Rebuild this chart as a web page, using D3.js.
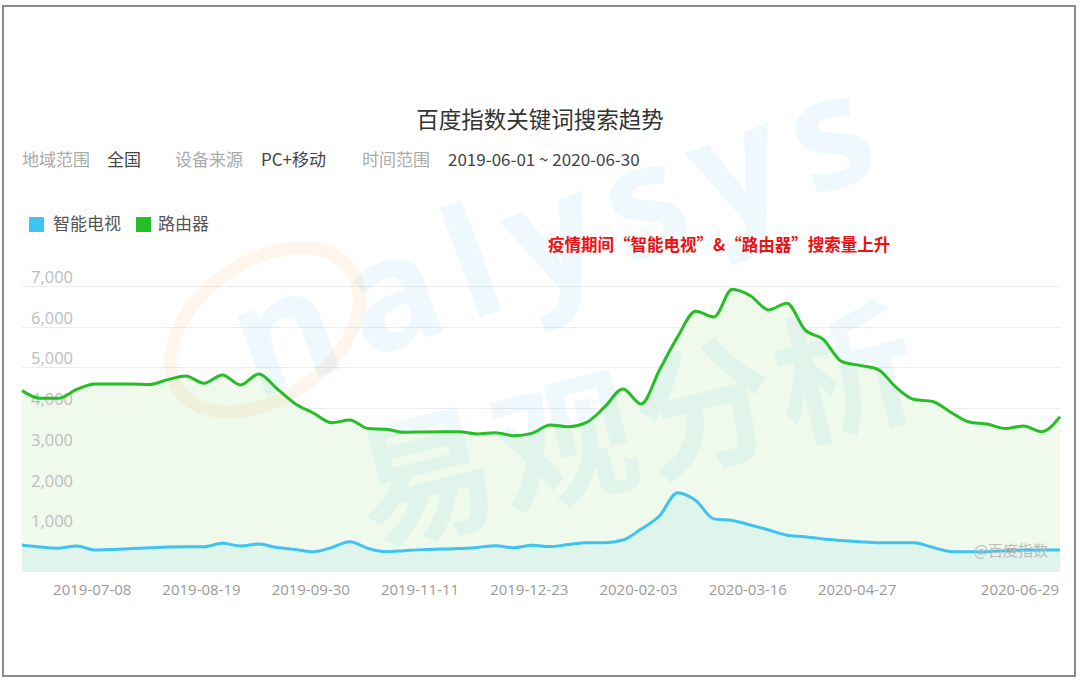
<!DOCTYPE html>
<html>
<head>
<meta charset="utf-8">
<script src="https://cdn.jsdelivr.net/npm/d3@7/dist/d3.min.js"></script>
<style>
  html, body { margin: 0; padding: 0; background: #fff; }
  svg { display: block; font-family: "Noto Sans CJK SC", "Noto Sans", sans-serif; }
</style>
</head>
<body>
<svg id="chart" width="1080" height="682"></svg>
<script>
// ---- data (weekly samples) ----
const startDate = "2019-06-11";
const tvValues = [639, 590, 560, 614, 516, 530, 550, 570, 590, 597,
  597, 680, 614, 663, 575, 530, 474, 575, 720, 557,
  474, 500, 525, 540, 550, 580, 622, 573, 631, 600,
  650, 696, 696, 760, 1030, 1350, 1925, 1730, 1280, 1240,
  1130, 1007, 880, 843, 785, 750, 720, 696, 696, 696,
  582, 480, 474, 474, 500, 516, 516, 516];
const routerValues = [4430, 4240, 4240, 4460, 4595, 4595, 4595, 4580, 4700, 4790,
  4612, 4816, 4570, 4840, 4480, 4110, 3880, 3640, 3710, 3500,
  3480, 3407, 3415, 3420, 3423, 3366, 3398, 3325, 3380, 3587,
  3545, 3650, 4030, 4472, 4103, 4930, 5750, 6380, 6240, 6920,
  6760, 6413, 6577, 5921, 5690, 5150, 5050, 4955, 4510, 4210,
  4165, 3900, 3660, 3610, 3500, 3560, 3423, 3791];
const seriesNames = ["智能电视", "路由器"];
const yTicks = [1000, 2000, 3000, 4000, 5000, 6000, 7000];
const xTickLabels = ["2019-07-08", "2019-08-19", "2019-09-30", "2019-11-11", "2019-12-23",
  "2020-02-03", "2020-03-16", "2020-04-27", "2020-06-29"];
const titleText = "百度指数关键词搜索趋势";
const filterItems = [["地域范围", "全国"], ["设备来源", "PC+移动"], ["时间范围", "2019-06-01 ~ 2020-06-30"]];
const noteText = "疫情期间“智能电视”&“路由器”搜索量上升";

// ---- setup ----
const parse = d3.utcParse("%Y-%m-%d");
const t0 = parse(startDate);
const dates = tvValues.map((_, i) => d3.utcDay.offset(t0, i * 7));
const tv = dates.map((d, i) => ({ date: d, value: tvValues[i] }));
const router = dates.map((d, i) => ({ date: d, value: routerValues[i] }));

const svg = d3.select("#chart");
const plot = { left: 22, right: 1060, top: 286, bottom: 571 };

const x = d3.scaleUtc().domain([dates[0], dates[dates.length - 1]]).range([plot.left, plot.right]);
const y = d3.scaleLinear().domain([0, 7000]).range([plot.bottom, plot.top]);

const colors = { tv: "#3ec3f3", router: "#25bf25" };

// frame
svg.append("rect").attr("x", 3).attr("y", 6).attr("width", 1072).attr("height", 670)
  .attr("fill", "none").attr("stroke", "#8a8a8a").attr("stroke-width", 2);

// title
svg.append("text").attr("x", 540).attr("y", 128).attr("text-anchor", "middle")
  .attr("font-size", 22.5).attr("fill", "#333").text(titleText);

// filter row
const filterX = [[22, 107], [175, 261], [362, 448]];
filterItems.forEach((f, i) => {
  svg.append("text").attr("x", filterX[i][0]).attr("y", 166).attr("font-size", 17)
    .attr("fill", "#aaa").text(f[0]);
  svg.append("text").attr("x", filterX[i][1]).attr("y", 166).attr("font-size", 17)
    .attr("fill", "#444").text(f[1]);
});

// legend
const legendItems = [{ name: seriesNames[0], color: colors.tv, x: 29, tx: 53 },
                     { name: seriesNames[1], color: colors.router, x: 136, tx: 158 }];
legendItems.forEach(l => {
  svg.append("rect").attr("x", l.x).attr("y", 217).attr("width", 15).attr("height", 15).attr("fill", l.color);
  svg.append("text").attr("x", l.tx).attr("y", 230).attr("font-size", 17).attr("fill", "#555").text(l.name);
});

// gridlines
const grid = svg.append("g");
grid.selectAll("line").data([0, ...yTicks]).join("line")
  .attr("x1", plot.left).attr("x2", plot.right)
  .attr("y1", d => Math.round(y(d)) + 0.5).attr("y2", d => Math.round(y(d)) + 0.5)
  .attr("stroke", "#ececec").attr("stroke-width", 1);

// areas
const areaGen = d3.area().curve(d3.curveMonotoneX)
  .x(d => x(d.date)).y0(y(0)).y1(d => y(d.value));
svg.append("path").datum(router).attr("d", areaGen).attr("fill", "#effaec");
svg.append("path").datum(tv).attr("d", areaGen).attr("fill", "#dff5ec");

// y labels
svg.append("g").selectAll("text").data(yTicks).join("text")
  .attr("x", 31).attr("y", d => y(d) - 3)
  .attr("font-family", "'Open Sans', 'Noto Sans', sans-serif")
  .attr("font-size", 16.5).attr("fill", "#bdbdbd")
  .text(d => d3.format(",")(d));

// watermarks (behind lines)
const wm = svg.append("g").attr("pointer-events", "none");
wm.append("ellipse").attr("cx", 265).attr("cy", 330).attr("rx", 105).attr("ry", 68)
  .attr("transform", "rotate(-35 265 330)")
  .attr("fill", "none").attr("stroke", "#f7a030").attr("stroke-opacity", 0.09).attr("stroke-width", 13);
wm.append("text").attr("x", 255).attr("y", 400).attr("transform", "rotate(-20 255 400)")
  .attr("font-family", "'Open Sans', sans-serif").attr("font-size", 155).attr("font-weight", 700)
  .attr("letter-spacing", 16)
  .attr("fill", "#35aee6").attr("fill-opacity", 0.08).text("nalysys");
wm.append("text").attr("x", 370).attr("y", 545).attr("transform", "rotate(-14 370 545)")
  .attr("font-size", 140).attr("font-weight", 700).attr("letter-spacing", 4)
  .attr("fill", "#35aee6").attr("fill-opacity", 0.08).text("易观分析");

// lines
const lineGen = d3.line().curve(d3.curveMonotoneX).x(d => x(d.date)).y(d => y(d.value));
svg.append("path").datum(router).attr("d", lineGen).attr("fill", "none")
  .attr("stroke", colors.router).attr("stroke-width", 3);
svg.append("path").datum(tv).attr("d", lineGen).attr("fill", "none")
  .attr("stroke", colors.tv).attr("stroke-width", 3);

svg.append("text").attr("x", 1048).attr("y", 556).attr("text-anchor", "end")
  .attr("font-size", 15).attr("fill", "#bbb").text("@百度指数");

// x axis labels
svg.append("g").selectAll("text").data(xTickLabels).join("text")
  .attr("x", d => Math.min(x(parse(d)), plot.right - 40))
  .attr("y", 595).attr("text-anchor", "middle")
  .attr("font-family", "'Open Sans', 'Noto Sans', sans-serif")
  .attr("font-size", 15).attr("fill", "#9a9a9a")
  .text(d => d);

// annotation
svg.append("text").attr("x", 548).attr("y", 251).attr("font-size", 16.5).attr("font-weight", 700)
  .attr("fill", "#f01010").text(noteText);
</script>
</body>
</html>
